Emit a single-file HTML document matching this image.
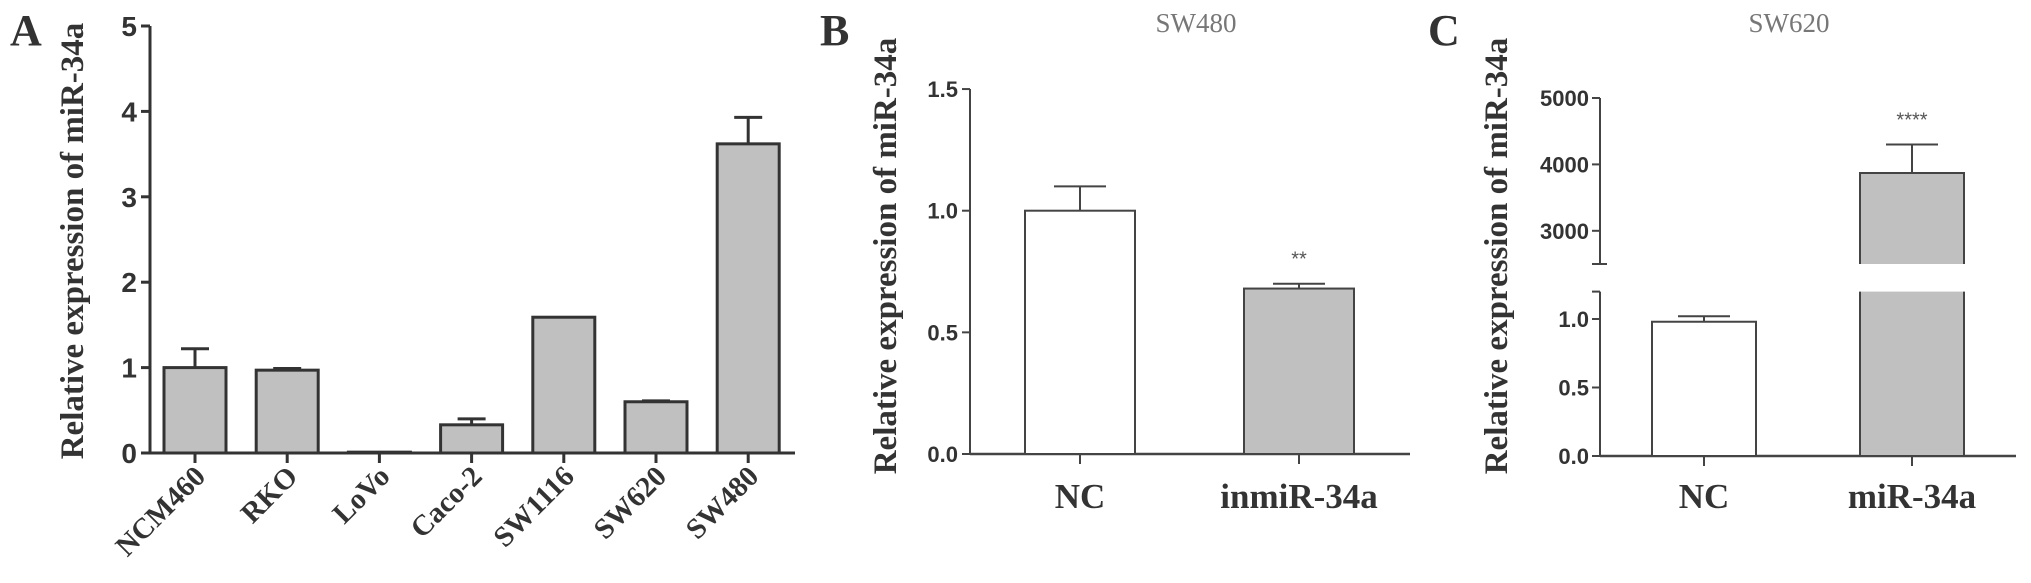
<!DOCTYPE html>
<html><head><meta charset="utf-8"><style>
body{margin:0;background:#fff;}
svg{display:block;}
.tk{font-family:"Liberation Sans Narrow","Liberation Sans",Arial,sans-serif;font-weight:bold;fill:#333;}
.tm{font-family:"Liberation Serif","Times New Roman",serif;font-weight:bold;fill:#333;}
.ttl{font-family:"Liberation Serif","Times New Roman",serif;fill:#777;font-size:27px;}
</style></head><body>
<svg id="fig" width="2031" height="583" viewBox="0 0 2031 583" xmlns="http://www.w3.org/2000/svg">
<text x="10" y="45" class="tm" font-size="44">A</text>
<text x="820" y="45" class="tm" font-size="44">B</text>
<text x="1428" y="45" class="tm" font-size="44">C</text>
<text class="tm" font-size="33" text-anchor="middle" transform="translate(83,241) rotate(-90)">Relative expression of miR-34a</text>
<text class="tm" font-size="33" text-anchor="middle" transform="translate(896,256) rotate(-90)">Relative expression of miR-34a</text>
<text class="tm" font-size="33" text-anchor="middle" transform="translate(1507,256) rotate(-90)">Relative expression of miR-34a</text>
<text x="1196" y="32" class="ttl" text-anchor="middle">SW480</text>
<text x="1789" y="32" class="ttl" text-anchor="middle">SW620</text>
</svg>
<script>
const aCats=["NCM460","RKO","LoVo","Caco-2","SW1116","SW620","SW480"];
const aVals=[1.0,0.97,0.01,0.33,1.59,0.60,3.62];
const aErrs=[0.22,0.02,0,0.07,0,0.01,0.31];
const aTicks=[0,1,2,3,4,5];
const bCats=["NC","inmiR-34a"];
const bVals=[1.0,0.68];
const bErrs=[0.10,0.02];
const bTicks=["0.0","0.5","1.0","1.5"];
const cCats=["NC","miR-34a"];
const cVals=[0.98,3870];
const cErrs=[0.04,430];
const cLowTicks=["0.0","0.5","1.0"];
const cHighTicks=["3000","4000","5000"];

const svg=document.getElementById('fig');
const NS="http://www.w3.org/2000/svg";
function mk(tag,attrs,parent){const e=document.createElementNS(NS,tag);for(const k in attrs)e.setAttribute(k,attrs[k]);(parent||svg).appendChild(e);return e;}

// Panel A
const aY=v=>453-v*85.4;
const aX=i=>195+i*92.2;
mk('line',{x1:150,y1:aY(5),x2:150,y2:453,stroke:'#333','stroke-width':3});
mk('line',{x1:150,y1:453,x2:795,y2:453,stroke:'#333','stroke-width':3});
aTicks.forEach(t=>{
 mk('line',{x1:141,y1:aY(t),x2:150,y2:aY(t),stroke:'#333','stroke-width':3});
 const tx=mk('text',{x:137,y:aY(t)+10,'text-anchor':'end','font-size':28,class:'tk'});tx.textContent=t;
 
 
});
aCats.forEach((c,i)=>{
 const x=aX(i);
 if(aErrs[i]>0){
  mk('line',{x1:x,y1:aY(aVals[i]),x2:x,y2:aY(aVals[i]+aErrs[i]),stroke:'#333','stroke-width':3});
  mk('line',{x1:x-14,y1:aY(aVals[i]+aErrs[i]),x2:x+14,y2:aY(aVals[i]+aErrs[i]),stroke:'#333','stroke-width':3});
 }
 const r=mk('rect',{x:x-31,y:aY(aVals[i]),width:62,height:453-aY(aVals[i]),fill:'#c0c0c0',stroke:'#333','stroke-width':3});
 
 
 mk('line',{x1:x,y1:453,x2:x,y2:463,stroke:'#333','stroke-width':3});
 const t=mk('text',{'text-anchor':'end','font-size':29,class:'tm',transform:`translate(${x+12},${478}) rotate(-45)`});t.textContent=c;
 
 
});

// Panel B
const bY=v=>454-v*243.3;
const bX=i=>1080+i*219;
mk('line',{x1:970,y1:bY(1.5),x2:970,y2:454,stroke:'#444','stroke-width':2});
mk('line',{x1:970,y1:454,x2:1410,y2:454,stroke:'#444','stroke-width':2.5});
bTicks.forEach(t=>{
 mk('line',{x1:962,y1:bY(+t),x2:970,y2:bY(+t),stroke:'#444','stroke-width':2});
 const tx=mk('text',{x:958,y:bY(+t)+8,'text-anchor':'end','font-size':22,class:'tk'});tx.textContent=t;
 
 
});
bCats.forEach((c,i)=>{
 const x=bX(i);
 mk('line',{x1:x,y1:bY(bVals[i]),x2:x,y2:bY(bVals[i]+bErrs[i]),stroke:'#444','stroke-width':2});
 mk('line',{x1:x-26,y1:bY(bVals[i]+bErrs[i]),x2:x+26,y2:bY(bVals[i]+bErrs[i]),stroke:'#444','stroke-width':2});
 const r=mk('rect',{x:x-55,y:bY(bVals[i]),width:110,height:454-bY(bVals[i]),fill:i?'#c0c0c0':'#fff',stroke:'#444','stroke-width':2});
 
 
 mk('line',{x1:x,y1:454,x2:x,y2:464,stroke:'#444','stroke-width':2});
 const t=mk('text',{x:x,y:508,'text-anchor':'middle','font-size':35,class:'tm'});t.textContent=c;
 
 
});
const bs=mk('text',{x:bX(1),y:bY(bVals[1]+bErrs[1])-18,'text-anchor':'middle','font-size':20,fill:'#555','font-family':'Liberation Sans,sans-serif'});bs.textContent='**';



// Panel C (broken axis)
const cYL=v=>456-v*137;
const cYH=v=>264-(v-2500)*0.0664;
const cX=i=>1704+i*208;
mk('line',{x1:1600,y1:cYL(1.2),x2:1600,y2:456,stroke:'#444','stroke-width':2});
mk('line',{x1:1600,y1:cYH(5000),x2:1600,y2:cYH(2500),stroke:'#444','stroke-width':2});
mk('line',{x1:1592,y1:cYL(1.2),x2:1600,y2:cYL(1.2),stroke:'#444','stroke-width':2});
mk('line',{x1:1592,y1:cYH(2500),x2:1607,y2:cYH(2500),stroke:'#444','stroke-width':2});
mk('line',{x1:1600,y1:456,x2:2016,y2:456,stroke:'#444','stroke-width':2.5});
cLowTicks.forEach(t=>{
 mk('line',{x1:1592,y1:cYL(+t),x2:1600,y2:cYL(+t),stroke:'#444','stroke-width':2});
 const tx=mk('text',{x:1589,y:cYL(+t)+8,'text-anchor':'end','font-size':22,class:'tk'});tx.textContent=t;
 
 
});
cHighTicks.forEach(t=>{
 mk('line',{x1:1592,y1:cYH(+t),x2:1600,y2:cYH(+t),stroke:'#444','stroke-width':2});
 const tx=mk('text',{x:1589,y:cYH(+t)+8,'text-anchor':'end','font-size':22,class:'tk'});tx.textContent=t;
 
 
});
cCats.forEach((c,i)=>{
 const x=cX(i),v=cVals[i],e=cErrs[i];
 if(v<=1.2){
  mk('line',{x1:x,y1:cYL(v),x2:x,y2:cYL(v+e),stroke:'#444','stroke-width':2});
  mk('line',{x1:x-26,y1:cYL(v+e),x2:x+26,y2:cYL(v+e),stroke:'#444','stroke-width':2});
  const r=mk('rect',{x:x-52,y:cYL(v),width:104,height:456-cYL(v),fill:i?'#c0c0c0':'#fff',stroke:'#444','stroke-width':2});
  
  
 } else {
  mk('line',{x1:x,y1:cYH(v),x2:x,y2:cYH(v+e),stroke:'#444','stroke-width':2});
  mk('line',{x1:x-26,y1:cYH(v+e),x2:x+26,y2:cYH(v+e),stroke:'#444','stroke-width':2});
  const r1=mk('rect',{x:x-52,y:cYH(v),width:104,height:cYH(2500)-cYH(v),fill:'#c0c0c0'});
  
  
  mk('polyline',{points:`${x-52},${cYH(2500)} ${x-52},${cYH(v)} ${x+52},${cYH(v)} ${x+52},${cYH(2500)}`,fill:'none',stroke:'#444','stroke-width':2});
  const r2=mk('rect',{x:x-52,y:cYL(1.2),width:104,height:456-cYL(1.2),fill:'#c0c0c0'});
  
  
  mk('polyline',{points:`${x-52},${cYL(1.2)} ${x-52},456 ${x+52},456 ${x+52},${cYL(1.2)}`,fill:'none',stroke:'#444','stroke-width':2});
  const s=mk('text',{x:x,y:cYH(v+e)-18,'text-anchor':'middle','font-size':20,fill:'#555','font-family':'Liberation Sans,sans-serif'});s.textContent='****';
  
  
 }
 mk('line',{x1:x,y1:456,x2:x,y2:466,stroke:'#444','stroke-width':2});
 const t=mk('text',{x:x,y:508,'text-anchor':'middle','font-size':35,class:'tm'});t.textContent=c;
 
 
});
</script>
</body></html>
